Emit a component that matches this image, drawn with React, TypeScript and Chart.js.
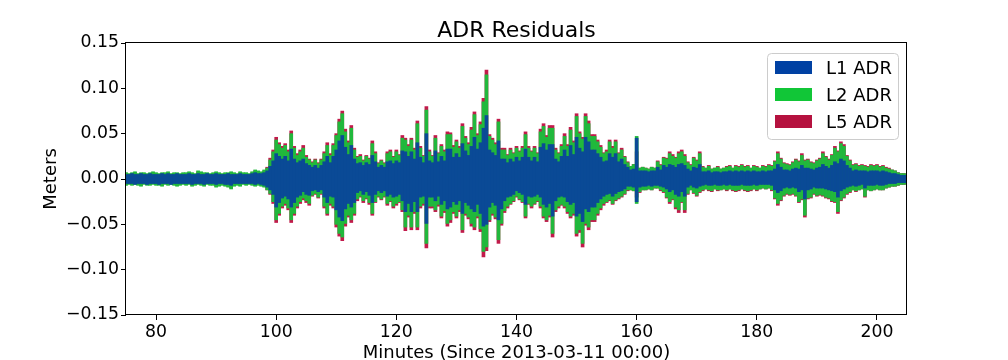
import React, { useEffect, useRef } from "react";
import { Chart, registerables } from "chart.js";

Chart.register(...registerables);

const chartTitle = "ADR Residuals";
const xAxisLabel = "Minutes (Since 2013-03-11 00:00)";
const yAxisLabel = "Meters";
const seriesNames = ["L1 ADR", "L2 ADR", "L5 ADR"];

const startMinute = 75;
const sampleStepMinutes = 0.5;
const xMin = 75;
const xMax = 205;
const xTickValues = [80, 100, 120, 140, 160, 180, 200];
const yTickValues = [-0.15, -0.1, -0.05, 0, 0.05, 0.1, 0.15];

// Residual envelopes in millimetres, one value every 0.5 minute from 75 to 205.
const l1UpperMm = [
  5,5,6,5,5,6,5,5,6,5,5,5,6,5,6,5,5,6,5,5,
  5,6,5,5,6,5,5,6,5,5,6,5,5,5,6,5,5,5,6,5,
  5,5,6,7,6,6,7,9,14,20,28,25,22,25,20,33,22,18,20,22,
  17,15,13,15,12,15,19,25,18,25,32,42,48,35,27,37,22,17,18,15,
  18,16,26,19,13,15,13,19,20,17,20,18,31,30,25,30,22,40,24,18,
  50,20,18,31,19,25,20,33,33,24,28,24,39,31,26,36,46,33,40,56,
  70,32,29,26,42,22,22,18,22,19,24,20,24,33,24,20,24,19,35,39,
  32,38,38,22,19,25,32,25,37,27,46,34,30,46,41,32,32,28,24,19,
  20,28,24,28,19,22,16,13,10,11,45,9,9,9,8,9,9,13,10,15,
  13,16,15,13,16,17,15,11,9,13,12,16,8,8,9,7,8,8,7,8,
  8,9,8,9,8,9,8,9,8,9,8,8,9,8,9,9,11,16,13,10,
  10,9,11,12,11,15,12,12,11,10,12,13,16,14,12,15,19,17,22,20,
  15,12,9,10,9,9,9,8,9,9,9,8,9,8,7,6,6,5,4,4,
  4,
];
const l1LowerMm = [
  -5,-5,-5,-6,-5,-5,-5,-6,-5,-5,-5,-6,-5,-5,-5,-6,-5,-5,-5,-5,
  -5,-5,-6,-5,-5,-5,-6,-5,-5,-5,-6,-5,-5,-6,-6,-7,-5,-5,-5,-5,
  -5,-5,-5,-6,-5,-6,-7,-9,-12,-17,-31,-26,-21,-19,-22,-31,-26,-20,-18,-14,
  -17,-18,-13,-12,-14,-12,-20,-26,-19,-20,-34,-42,-46,-33,-27,-31,-26,-15,-13,-17,
  -14,-18,-26,-17,-13,-15,-13,-19,-17,-20,-19,-17,-24,-36,-27,-36,-25,-36,-20,-19,
  -49,-20,-20,-24,-19,-28,-24,-33,-31,-25,-28,-24,-38,-26,-29,-33,-36,-28,-38,-52,
  -50,-31,-26,-29,-45,-33,-24,-20,-19,-17,-13,-15,-17,-28,-19,-20,-19,-17,-20,-28,
  -31,-27,-41,-24,-20,-19,-20,-25,-28,-26,-41,-38,-47,-33,-36,-31,-31,-26,-22,-19,
  -17,-16,-19,-16,-14,-13,-11,-8,-8,-9,-25,-9,-8,-8,-7,-8,-7,-7,-8,-9,
  -11,-14,-12,-17,-19,-14,-19,-9,-7,-9,-10,-8,-7,-6,-7,-7,-6,-7,-7,-6,
  -7,-6,-7,-7,-7,-6,-7,-7,-7,-6,-7,-6,-6,-6,-6,-7,-12,-15,-13,-10,
  -9,-10,-9,-10,-14,-12,-22,-12,-11,-9,-10,-10,-10,-11,-12,-13,-14,-20,-13,-11,
  -9,-8,-7,-8,-7,-6,-10,-7,-7,-7,-6,-7,-7,-6,-5,-5,-5,-4,-4,-4,
  -4,
];
const l2UpperMm = [
  7,6,7,8,6,7,7,6,7,8,7,6,7,7,8,6,7,7,6,7,
  7,8,7,6,9,8,7,7,6,7,8,7,6,7,7,8,7,6,8,7,
  7,6,8,10,9,8,10,12,21,30,43,38,34,37,30,50,34,26,30,34,
  24,21,18,21,17,21,28,37,26,37,48,63,72,52,40,56,32,24,25,20,
  25,22,39,28,17,20,17,28,30,24,30,26,45,43,36,43,32,61,34,25,
  76,30,25,45,28,36,30,49,49,35,41,34,58,45,38,54,71,48,60,85,
  115,47,43,38,63,32,32,26,32,28,34,30,34,49,34,30,34,28,52,58,
  46,56,56,32,28,36,47,36,54,40,69,50,44,69,61,47,47,41,35,28,
  30,41,34,41,28,32,24,18,14,16,47,12,13,12,11,13,12,19,15,23,
  22,28,25,23,28,30,25,18,15,23,20,28,13,12,14,11,12,13,11,12,
  13,14,12,14,13,15,13,14,12,14,13,12,14,13,15,14,19,28,22,17,
  16,15,18,21,19,26,20,21,18,17,20,22,28,24,21,26,34,30,39,36,
  25,20,15,16,14,15,14,13,15,14,15,13,14,12,11,10,9,7,6,6,
  5,
];
const l2LowerMm = [
  -7,-6,-7,-6,-7,-8,-6,-7,-7,-6,-7,-7,-8,-6,-7,-6,-7,-8,-7,-6,
  -7,-6,-8,-7,-6,-7,-8,-6,-7,-7,-9,-8,-7,-8,-9,-11,-8,-7,-8,-6,
  -7,-6,-7,-8,-7,-8,-9,-12,-16,-25,-45,-38,-30,-27,-32,-45,-38,-30,-25,-21,
  -24,-27,-18,-16,-20,-16,-30,-38,-27,-30,-50,-60,-64,-49,-40,-45,-38,-22,-19,-24,
  -21,-26,-38,-25,-19,-22,-19,-27,-24,-30,-27,-25,-34,-53,-40,-53,-36,-53,-30,-27,
  -71,-30,-30,-34,-28,-41,-35,-49,-45,-36,-41,-34,-56,-38,-42,-49,-53,-41,-55,-80,
  -75,-45,-38,-42,-67,-49,-35,-30,-27,-24,-19,-22,-25,-41,-27,-30,-27,-24,-30,-41,
  -45,-40,-60,-34,-30,-28,-30,-36,-41,-38,-60,-56,-71,-49,-53,-45,-45,-38,-32,-27,
  -25,-23,-27,-23,-21,-19,-16,-12,-12,-13,-27,-14,-12,-12,-11,-12,-10,-10,-12,-14,
  -20,-25,-22,-31,-34,-25,-34,-16,-12,-15,-18,-14,-12,-11,-12,-13,-11,-12,-12,-11,
  -12,-11,-12,-13,-12,-11,-12,-13,-12,-11,-12,-11,-10,-11,-10,-12,-21,-27,-23,-18,
  -16,-17,-16,-18,-25,-22,-40,-21,-20,-16,-18,-17,-18,-20,-21,-24,-25,-36,-23,-20,
  -16,-14,-12,-13,-12,-11,-19,-12,-13,-12,-11,-12,-12,-10,-9,-8,-8,-7,-6,-6,
  -5,
];
const l5UpperMm = [
  6,5,6,7,5,6,6,5,6,7,6,5,6,6,7,5,6,6,5,6,
  6,7,6,5,8,7,6,6,5,6,7,6,5,6,6,7,6,5,7,6,
  6,5,7,9,8,7,9,13,23,32,46,40,36,39,32,53,36,28,32,37,
  26,22,19,22,18,22,30,40,28,39,50,66,75,55,42,59,34,25,27,21,
  26,23,42,30,18,21,18,30,32,25,32,27,48,45,38,45,34,64,36,26,
  80,32,26,48,29,38,32,52,51,37,43,36,61,47,40,57,74,50,63,89,
  120,49,45,40,66,34,34,27,34,29,36,31,36,52,36,31,36,29,55,61,
  48,59,59,34,29,38,50,38,57,42,72,52,46,72,64,49,49,43,37,29,
  32,43,36,43,29,34,25,19,14,16,30,12,13,12,11,13,12,20,16,24,
  23,30,27,24,30,32,27,19,16,24,21,30,14,12,15,11,12,14,11,12,
  14,15,12,15,14,16,14,15,12,15,14,12,15,14,16,15,20,30,23,18,
  17,16,19,22,20,28,21,22,19,18,21,23,30,25,22,27,36,31,41,38,
  26,21,16,17,15,16,15,14,16,15,16,14,15,13,12,10,9,7,6,6,
  5,
];
const l5LowerMm = [
  -6,-5,-6,-5,-6,-7,-5,-6,-6,-5,-6,-6,-7,-5,-6,-5,-6,-7,-6,-5,
  -6,-5,-7,-6,-5,-6,-7,-5,-6,-6,-8,-7,-6,-7,-8,-10,-7,-6,-7,-5,
  -6,-5,-6,-7,-6,-7,-8,-12,-17,-27,-48,-40,-32,-29,-34,-48,-40,-32,-27,-23,
  -26,-29,-19,-17,-21,-17,-32,-40,-29,-32,-53,-63,-68,-52,-42,-48,-40,-24,-20,-26,
  -22,-28,-40,-26,-20,-23,-20,-29,-25,-32,-29,-26,-36,-57,-42,-56,-38,-56,-32,-29,
  -76,-32,-32,-36,-30,-43,-37,-52,-48,-38,-43,-36,-59,-40,-44,-52,-56,-43,-58,-86,
  -79,-47,-40,-44,-71,-51,-37,-32,-28,-25,-20,-23,-26,-43,-28,-32,-28,-25,-32,-43,
  -47,-42,-64,-36,-32,-29,-32,-38,-43,-40,-63,-59,-75,-51,-56,-47,-47,-40,-34,-29,
  -26,-24,-28,-24,-22,-20,-17,-13,-12,-13,-20,-15,-12,-12,-11,-12,-10,-10,-13,-15,
  -21,-27,-23,-33,-37,-26,-37,-17,-12,-16,-19,-15,-13,-11,-13,-14,-11,-13,-12,-11,
  -13,-11,-13,-14,-13,-11,-13,-14,-13,-11,-13,-11,-10,-11,-10,-13,-22,-29,-24,-19,
  -17,-18,-17,-19,-26,-23,-42,-22,-21,-17,-19,-18,-19,-21,-22,-25,-26,-38,-24,-21,
  -17,-15,-12,-14,-12,-11,-20,-12,-13,-12,-11,-12,-12,-10,-9,-8,-8,-7,-6,-6,
  -5,
];

const plotColors = ["#0a4a96", "#21b83c", "#c21a4b"];
const legendColors = ["#0041a3", "#11c637", "#b5123f"];
const FONT = "'DejaVu Sans', sans-serif";

function toBars(lower: number[], upper: number[]) {
  return upper.map((u, i) => ({
    x: startMinute + i * sampleStepMinutes,
    y: [lower[i] / 1000, u / 1000],
  }));
}

function fmtY(v: number) {
  const s = Math.abs(v) < 1e-9 ? "0.00" : v.toFixed(2);
  return s.replace("-", "\u2212");
}

const decorPlugin = {
  id: "decor",
  afterDraw(chart: any) {
    const { ctx, chartArea: a } = chart;
    ctx.save();
    // frame
    ctx.strokeStyle = "#000";
    ctx.lineWidth = 1;
    const l = Math.round(a.left) - 0.5;
    const t = Math.round(a.top) - 0.5;
    const r = Math.round(a.right) - 0.5;
    const b = Math.round(a.bottom) - 0.5;
    ctx.strokeRect(l, t, r - l, b - t);

    // title
    ctx.fillStyle = "#000";
    ctx.textAlign = "center";
    ctx.textBaseline = "alphabetic";
    ctx.font = `22px ${FONT}`;
    ctx.fillText(chartTitle, (a.left + a.right) / 2, 37);

    // x label
    ctx.font = `18px ${FONT}`;
    ctx.fillText(xAxisLabel, (a.left + a.right) / 2, 358);

    // y label
    ctx.save();
    ctx.translate(56, (a.top + a.bottom) / 2);
    ctx.rotate(-Math.PI / 2);
    ctx.textBaseline = "alphabetic";
    ctx.fillText(yAxisLabel, 0, 0);
    ctx.restore();

    // legend
    const lx = 767.5, ly = 53.5, lw = 131, lh = 86;
    ctx.beginPath();
    (ctx as any).roundRect(lx, ly, lw, lh, 4);
    ctx.fillStyle = "rgba(255,255,255,0.8)";
    ctx.fill();
    ctx.strokeStyle = "#cccccc";
    ctx.lineWidth = 1;
    ctx.stroke();
    ctx.font = `18px ${FONT}`;
    ctx.textAlign = "left";
    ctx.textBaseline = "alphabetic";
    seriesNames.forEach((name, i) => {
      const rowTop = 61 + i * 27;
      ctx.fillStyle = legendColors[i];
      ctx.fillRect(775, rowTop, 37, 13);
      ctx.fillStyle = "#000";
      ctx.fillText(name, 826, rowTop + 13);
    });
    ctx.restore();
  },
};

export default function App() {
  const canvasRef = useRef<HTMLCanvasElement | null>(null);

  useEffect(() => {
    document.body.style.margin = "0";
    const canvas = canvasRef.current;
    if (!canvas) return;
    const series = [
      toBars(l1LowerMm, l1UpperMm),
      toBars(l2LowerMm, l2UpperMm),
      toBars(l5LowerMm, l5UpperMm),
    ];
    const tickFont = { family: FONT, size: 17.3 };
    const chart = new Chart(canvas, {
      type: "bar",
      data: {
        datasets: series.map((d, i) => ({
          label: seriesNames[i],
          data: d as any,
          backgroundColor: plotColors[i],
          borderWidth: 0,
          barPercentage: 1,
          categoryPercentage: 1,
          grouped: false,
        })),
      },
      options: {
        animation: false,
        responsive: false,
        events: [],
        layout: { padding: { top: 43, right: 101, left: 0, bottom: 0 } },
        plugins: {
          legend: { display: false },
          title: { display: false },
          tooltip: { enabled: false },
        },
        scales: {
          x: {
            type: "linear",
            min: xMin,
            max: xMax,
            offset: false,
            afterBuildTicks: (s: any) => {
              s.ticks = xTickValues.map((v) => ({ value: v }));
            },
            afterFit: (s: any) => {
              s.height = 45;
            },
            grid: {
              display: true,
              drawOnChartArea: false,
              drawTicks: true,
              tickLength: 5,
              color: "#000",
              offset: false,
            },
            border: { display: false },
            ticks: {
              font: tickFont,
              color: "#000",
              padding: 2,
              maxRotation: 0,
              autoSkip: false,
              callback: (v: any) => String(v),
            },
          },
          y: {
            type: "linear",
            min: -0.15,
            max: 0.15,
            afterBuildTicks: (s: any) => {
              s.ticks = yTickValues.map((v) => ({ value: v }));
            },
            afterFit: (s: any) => {
              s.width = 126;
            },
            grid: {
              display: true,
              drawOnChartArea: false,
              drawTicks: true,
              tickLength: 5,
              color: "#000",
            },
            border: { display: false },
            ticks: {
              font: tickFont,
              color: "#000",
              padding: 2,
              autoSkip: false,
              callback: (v: any) => fmtY(Number(v)),
            },
          },
        },
      },
      plugins: [decorPlugin],
    } as any);
    return () => chart.destroy();
  }, []);

  return (
    <div style={{ width: 1008, height: 360 }}>
      <canvas ref={canvasRef} width={1008} height={360} style={{ display: "block" }} />
    </div>
  );
}
